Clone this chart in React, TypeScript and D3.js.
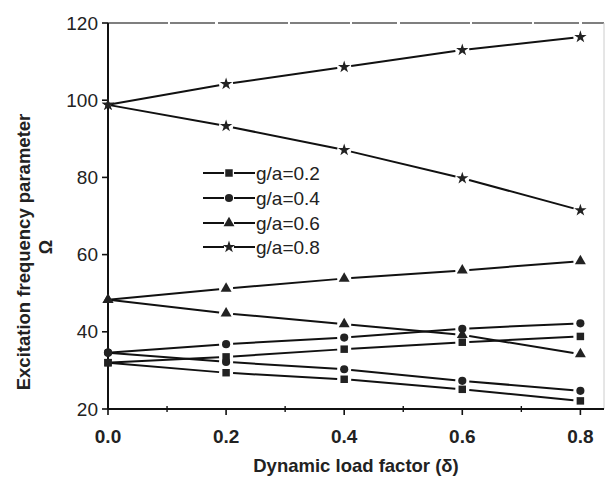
import React from "react";
import * as d3 from "d3";

const loadFactors = [0, 0.2, 0.4, 0.6, 0.8];
const ga02Upper = [32.0, 33.5, 35.5, 37.3, 38.8];
const ga02Lower = [32.0, 29.4, 27.7, 25.1, 22.1];
const ga04Upper = [34.6, 36.8, 38.5, 40.8, 42.2];
const ga04Lower = [34.6, 32.2, 30.3, 27.3, 24.7];
const ga06Upper = [48.3, 51.2, 53.8, 55.9, 58.3];
const ga06Lower = [48.3, 44.8, 42.0, 39.2, 34.2];
const ga08Upper = [98.8, 104.2, 108.6, 113.0, 116.4];
const ga08Lower = [98.8, 93.3, 87.1, 79.8, 71.5];

const xTicks = [0, 0.2, 0.4, 0.6, 0.8];
const xTickLabels = ["0.0", "0.2", "0.4", "0.6", "0.8"];
const xMinorTicks = [0.1, 0.3, 0.5, 0.7];
const yTicks = [20, 40, 60, 80, 100, 120];

const seriesNames = ["g/a=0.2", "g/a=0.4", "g/a=0.6", "g/a=0.8"];
const seriesSymbols = ["square", "circle", "triangle", "star"];

const series = [
  { sym: "square", branches: [ga02Upper, ga02Lower] },
  { sym: "circle", branches: [ga04Upper, ga04Lower] },
  { sym: "triangle", branches: [ga06Upper, ga06Lower] },
  { sym: "star", branches: [ga08Upper, ga08Lower] },
];

const FONT = "'Liberation Sans', Arial, sans-serif";

function symbolPath(sym: string) {
  const map: Record<string, any> = {
    square: d3.symbolSquare,
    circle: d3.symbolCircle,
    triangle: d3.symbolTriangle,
    star: d3.symbolStar,
  };
  const size: Record<string, number> = { square: 56, circle: 52, triangle: 52, star: 48 };
  return d3.symbol(map[sym], size[sym])() as string;
}

export default function App() {
  const W = 609;
  const H = 479;
  const left = 108;
  const right = 604;
  const top = 23;
  const bottom = 409;

  const x = d3.scaleLinear().domain([0, 0.84]).range([left, right]);
  const y = d3.scaleLinear().domain([20, 120]).range([bottom, top]);

  const gap = 7;
  const segs: { x1: number; y1: number; x2: number; y2: number }[] = [];
  const marks: { cx: number; cy: number; sym: string }[] = [];
  series.forEach((s) => {
    s.branches.forEach((vals) => {
      const pts = loadFactors.map((lf, i) => [x(lf), y(vals[i])] as [number, number]);
      pts.forEach((p) => marks.push({ cx: p[0], cy: p[1], sym: s.sym }));
      for (let i = 0; i < pts.length - 1; i++) {
        const [ax, ay] = pts[i];
        const [bx, by] = pts[i + 1];
        const dx = bx - ax;
        const dy = by - ay;
        const len = Math.hypot(dx, dy);
        const ux = dx / len;
        const uy = dy / len;
        const g0 = i === 0 ? 3 : gap;
        segs.push({ x1: ax + ux * g0, y1: ay + uy * g0, x2: bx - ux * gap, y2: by - uy * gap });
      }
    });
  });

  const legendX0 = 203;
  const legendX1 = 255;
  const legendMarkerX = 229;
  const legendRows = [173, 198, 223, 247];

  return (
    <svg width={W} height={H} style={{ position: "absolute", left: 0, top: 0, background: "#fff" }}>
      {/* frame */}
      <line x1={left} x2={right} y1={top} y2={top} stroke="#555" strokeWidth={1.6} strokeDasharray="60 2 45 3 70 2" />
      <line x1={right} x2={right} y1={top} y2={bottom} stroke="#ccc" strokeWidth={1} />
      <line x1={left} x2={right} y1={bottom} y2={bottom} stroke="#111" strokeWidth={1.8} />
      <line x1={left} x2={left} y1={top} y2={bottom} stroke="#111" strokeWidth={2} />

      {/* x ticks */}
      {xTicks.map((t, i) => (
        <g key={"xt" + i}>
          <line x1={x(t)} x2={x(t)} y1={bottom} y2={bottom + 6} stroke="#111" strokeWidth={1.6} />
          <text x={x(t)} y={bottom + 34} textAnchor="middle" fontFamily={FONT} fontSize={19} fontWeight="bold" fill="#222">
            {xTickLabels[i]}
          </text>
        </g>
      ))}
      {xMinorTicks.map((t, i) => (
        <line key={"xm" + i} x1={x(t)} x2={x(t)} y1={bottom - 3} y2={bottom + 3} stroke="#111" strokeWidth={1.4} />
      ))}

      {/* y ticks */}
      {yTicks.map((t, i) => (
        <g key={"yt" + i}>
          <line x1={left - 6} x2={left} y1={y(t)} y2={y(t)} stroke="#111" strokeWidth={1.6} />
          <text x={left - 10} y={y(t) + 6.5} textAnchor="end" fontFamily={FONT} fontSize={19} fill="#222">
            {t}
          </text>
        </g>
      ))}

      {/* data lines */}
      {segs.map((s, i) => (
        <line key={"s" + i} x1={s.x1} y1={s.y1} x2={s.x2} y2={s.y2} stroke="#111" strokeWidth={2} />
      ))}
      {marks.map((m, i) => (
        <path key={"m" + i} d={symbolPath(m.sym)} transform={`translate(${m.cx},${m.cy})`} fill="#222" />
      ))}

      {/* legend */}
      {seriesNames.map((name, i) => (
        <g key={"lg" + i}>
          <line x1={legendX0} x2={legendMarkerX - 5} y1={legendRows[i]} y2={legendRows[i]} stroke="#111" strokeWidth={2} />
          <line x1={legendMarkerX + 5} x2={legendX1} y1={legendRows[i]} y2={legendRows[i]} stroke="#111" strokeWidth={2} />
          <path d={symbolPath(seriesSymbols[i])} transform={`translate(${legendMarkerX},${legendRows[i]})`} fill="#222" />
          <text x={legendX1 + 1} y={legendRows[i] + 6.5} fontFamily={FONT} fontSize={19} fill="#222">
            {name}
          </text>
        </g>
      ))}

      {/* axis titles */}
      <text x={356} y={472} textAnchor="middle" fontFamily={FONT} fontSize={18.5} fontWeight="bold" fill="#222">
        Dynamic load factor (δ)
      </text>
      <text
        transform={`translate(30,252) rotate(-90)`}
        textAnchor="middle"
        fontFamily={FONT}
        fontSize={18.5}
        fontWeight="bold"
        fill="#222"
      >
        Excitation frequency parameter
      </text>
      <text
        transform={`translate(52,247) rotate(-90)`}
        textAnchor="middle"
        fontFamily={FONT}
        fontSize={18}
        fontWeight="bold"
        fill="#222"
      >
        Ω
      </text>
    </svg>
  );
}
